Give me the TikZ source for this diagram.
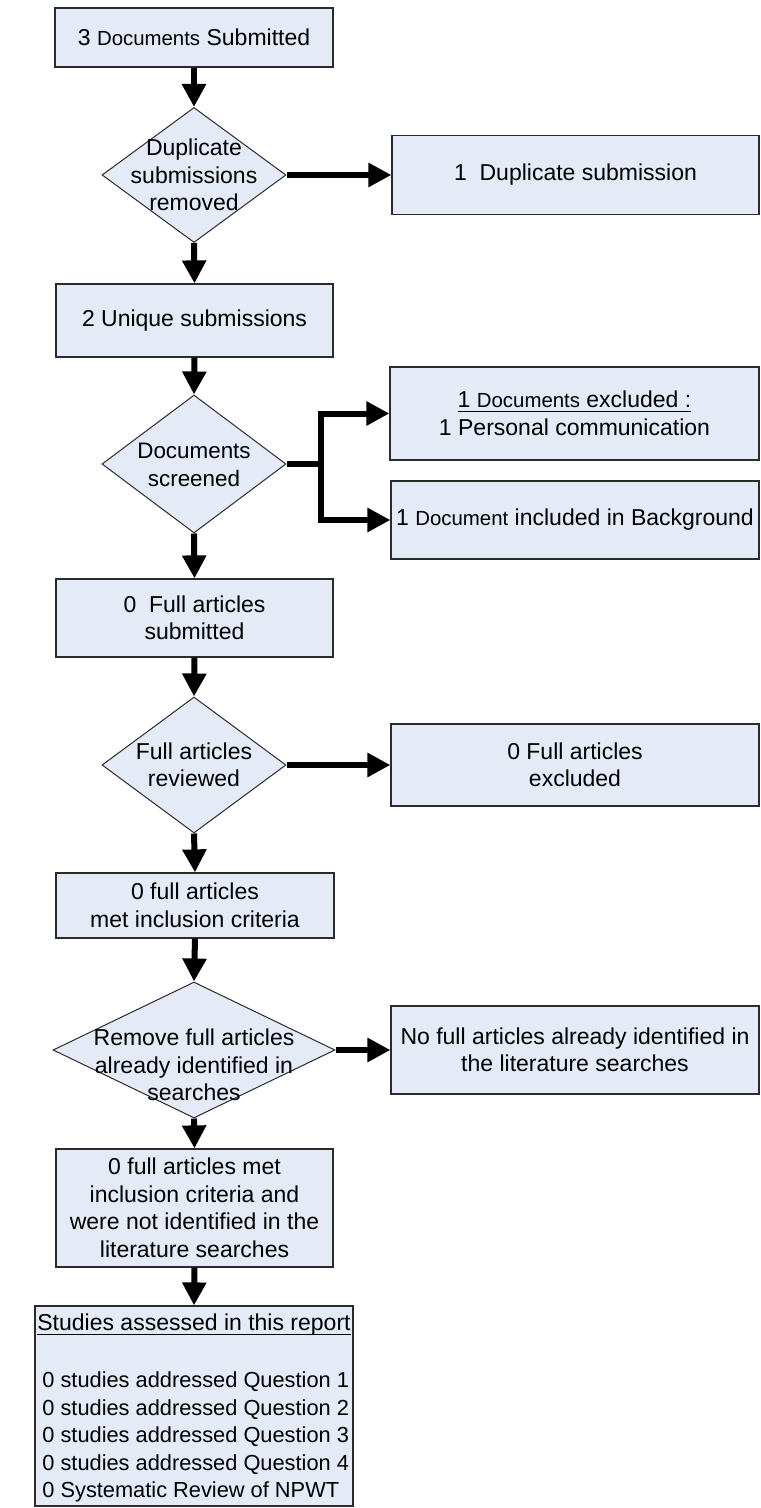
\documentclass[tikz,border=0pt]{standalone}
\usepackage{fontspec}
\setmainfont{Liberation Sans}
\usetikzlibrary{shapes.geometric,arrows.meta}
\definecolor{boxfill}{HTML}{E5EBF6}
\definecolor{boxline}{HTML}{2B2B2B}
% the word "Documents" is set a little smaller than the surrounding text
\newcommand\smalldoc[1]{{\fontsize{10.2}{13.75}\selectfont #1}}
% underline drawn just below the baseline, crossing descenders
\newcommand\ulined[1]{\leavevmode\setbox0\hbox{#1}\rlap{\vrule height -1.3pt depth 2pt width \wd0}\box0}

\begin{document}
\begin{tikzpicture}[x=0.5pt,y=-0.5pt,
  every node/.style={font=\fontsize{11.5}{13.75}\selectfont, inner sep=0pt},
  box/.style={draw=boxline, line width=0.6pt, fill=boxfill, rectangle, align=center},
  decision/.style={draw=boxline, line width=0.5pt, fill=boxfill, diamond, inner sep=0pt},
  caption/.style={align=center},
  flow/.style={line width=3pt, -{Triangle[width=11.5pt,length=11.5pt]}},
  trunk/.style={line width=3pt}]

\path[use as bounding box, fill=white] (0,0) rectangle (760,1508);

% ---- main column ----
\node[box, minimum width=139pt, minimum height=29.5pt] (b1) at (194,37.5)
  {3 \smalldoc{Documents} Submitted};

\node[decision, minimum width=92pt, minimum height=67.5pt] (d1) at (194,175) {};
\node[caption] (d1t) at (d1) {Duplicate\\submissions\\removed};

\node[box, minimum width=138.5pt, minimum height=36.5pt] (b2) at (194.5,320.5)
  {2 Unique submissions};

\node[decision, minimum width=92pt, minimum height=69pt] (d2) at (194,464) {};
\node[caption, font=\fontsize{11.2}{13.75}\selectfont] (d2t) at (194,465) {Documents\\screened};

\node[box, minimum width=138.5pt, minimum height=39pt] (b3) at (194.5,618)
  {0~~Full articles\\submitted};

\node[decision, minimum width=92pt, minimum height=68pt] (d3) at (194,765) {};
\node[caption] (d3t) at (d3) {Full articles\\reviewed};

\node[box, minimum width=139pt, minimum height=32.5pt] (b4) at (195,905.5)
  {0 full articles\\met inclusion criteria};

\node[decision, minimum width=141pt, minimum height=68pt] (d4) at (194,1050) {};
\node[caption] (d4t) at (194,1065) {Remove full articles\\already identified in\\searches};

\node[box, minimum width=138.5pt, minimum height=59pt] (b5) at (194.5,1208)
  {0 full articles met\\inclusion criteria and\\were not identified in the\\literature searches};

\node[box, minimum width=159pt, minimum height=100pt] (b6) at (194,1406) {};
\node[caption] (b6h) at (194,1325) {\ulined{Studies assessed in this report}};
\node[align=left, anchor=west, font=\fontsize{10.9}{13.75}\selectfont] (b6l) at (42,1437)
  {0 studies addressed Question 1\\
   0 studies addressed Question 2\\
   0 studies addressed Question 3\\
   0 studies addressed Question 4\\
   0 Systematic Review of NPWT};

% ---- side boxes ----
\node[box, minimum width=183.5pt, minimum height=39.5pt] (r1) at (575.5,175)
  {1~~Duplicate submission};
\node[box, minimum width=184.5pt, minimum height=46.5pt] (r2a) at (574.5,413.5)
  {\ulined{1 \smalldoc{Documents} excluded :}\\1 Personal communication};
\node[box, minimum width=184pt, minimum height=39pt] (r2b) at (575,520)
  {1 \smalldoc{Document} included in Background};
\node[box, minimum width=184pt, minimum height=41pt] (r3) at (575,765)
  {0 Full articles\\excluded};
\node[box, minimum width=184pt, minimum height=44pt] (r4) at (575,1050)
  {No full articles already identified in\\the literature searches};

\coordinate (split) at (321,464);

% ---- connectors ----
\draw[flow] (b1.south) -- (d1.north);
\draw[flow] (d1.east) -- (r1.west);
\draw[flow] (d1.south) -- (b2.north);
\draw[flow] (b2.south) -- (d2.north);
\draw[trunk] (d2.east) -- (split);
\draw[flow] (split) |- (r2a.west);
\draw[flow] (split) |- (r2b.west);
\draw[flow] (d2.south) -- (b3.north);
\draw[flow] (b3.south) -- (d3.north);
\draw[flow] (d3.east) -- (r3.west);
\draw[flow] (d3.south) -- (b4.north);
\draw[flow] (b4.south) -- (d4.north);
\draw[flow] (d4.east) -- (r4.west);
\draw[flow] (d4.south) -- (b5.north);
\draw[flow] (b5.south) -- (b6.north);
\end{tikzpicture}
\end{document}
